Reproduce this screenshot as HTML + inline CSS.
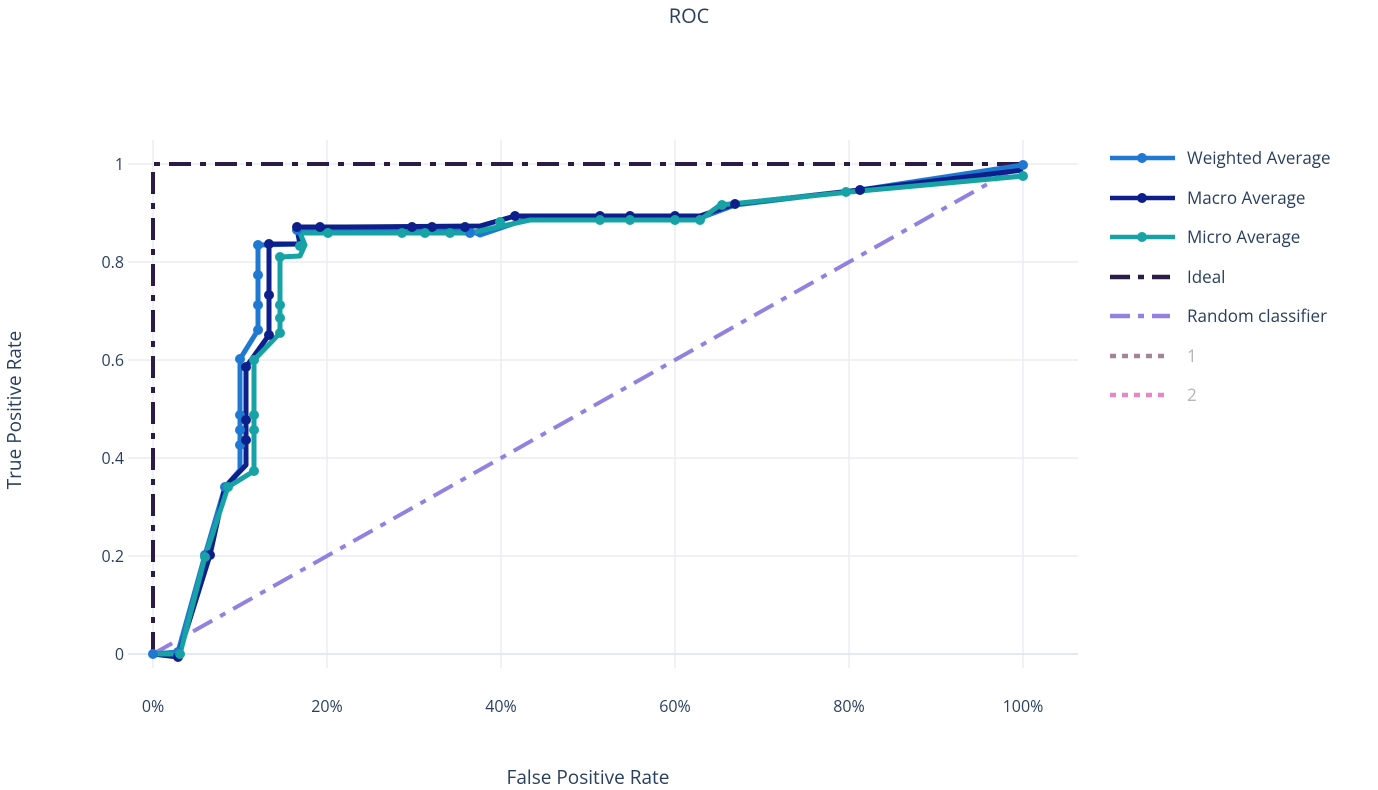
<!DOCTYPE html>
<html><head><meta charset="utf-8"><style>
body{margin:0;background:#fff;}
svg{display:block;font-family:"Open Sans","Liberation Sans",sans-serif;}
</style></head><body>
<svg width="1378" height="790" viewBox="0 0 1378 790">
<rect width="1378" height="790" fill="#fff"/>
<g stroke="#e9edf3" stroke-width="1.5">
<line x1="153" y1="140" x2="153" y2="668"/><line x1="327" y1="140" x2="327" y2="668"/><line x1="501" y1="140" x2="501" y2="668"/><line x1="675" y1="140" x2="675" y2="668"/><line x1="849" y1="140" x2="849" y2="668"/><line x1="1023" y1="140" x2="1023" y2="668"/>
<line x1="128" y1="164" x2="1078" y2="164"/><line x1="128" y1="262" x2="1078" y2="262"/><line x1="128" y1="360" x2="1078" y2="360"/><line x1="128" y1="458" x2="1078" y2="458"/><line x1="128" y1="556" x2="1078" y2="556"/>
</g>
<line x1="128" y1="654" x2="1078" y2="654" stroke="#e4e9f0" stroke-width="2"/>
<g fill="#2a3f5f" font-size="16">
<text x="689" y="23" text-anchor="middle" font-size="20">ROC</text>
<g text-anchor="end"><text x="124" y="170">1</text><text x="124" y="268">0.8</text><text x="124" y="366">0.6</text><text x="124" y="464">0.4</text><text x="124" y="562">0.2</text><text x="124" y="660">0</text></g>
<g text-anchor="middle"><text x="153" y="712">0%</text><text x="327" y="712">20%</text><text x="501" y="712">40%</text><text x="675" y="712">60%</text><text x="849" y="712">80%</text><text x="1023" y="712">100%</text></g>
<text x="588" y="784" text-anchor="middle" font-size="19">False Positive Rate</text>
<text transform="translate(21,410) rotate(-90)" text-anchor="middle" font-size="19">True Positive Rate</text>
</g>
<polyline points="153,654 1023,164" fill="none" stroke="#9381e0" stroke-width="4" stroke-dasharray="22,9,6,9"/>
<polyline points="153,654 153,164 1023,164" fill="none" stroke="#2c1b47" stroke-width="4" stroke-dasharray="22,9,6,9"/>
<g fill="none" stroke-width="5" stroke-linejoin="round">
<polyline stroke="#1f78d1" points="153,654 178,652 205,555 225,487 240,470 240,359 258,330 258,245 300,244 297,230 330,230 470,230 480,235 530,218 700,218 735,205 860,190 1023,165"/>
<polyline stroke="#0d1f8a" points="153,654 178,657 210,555 225,487 246,465 246,367 269,335 269,244 300,244 297,227 345,227 480,226 515,216 700,216 735,204 860,190 1023,170"/>
<polyline stroke="#17a2a6" points="153,654 180,654 205,557 228,487 254,471 254,360 280,333 280,257 300,256 305,245 300,233 470,233 530,220 700,220 720,205 860,191 1023,176"/>
</g>
<g fill="#1f78d1"><circle cx="153" cy="654" r="5"/><circle cx="178" cy="652" r="5"/><circle cx="205" cy="555" r="5"/><circle cx="225" cy="487" r="5"/><circle cx="240" cy="359" r="5"/><circle cx="240" cy="415" r="5"/><circle cx="240" cy="430" r="5"/><circle cx="240" cy="445" r="5"/><circle cx="258" cy="330" r="5"/><circle cx="258" cy="305" r="5"/><circle cx="258" cy="275" r="5"/><circle cx="258" cy="245" r="5"/><circle cx="297" cy="230" r="5"/><circle cx="470" cy="233" r="5"/><circle cx="1023" cy="165" r="5"/></g>
<g fill="#0d1f8a"><circle cx="178" cy="657" r="5"/><circle cx="210" cy="555" r="5"/><circle cx="246" cy="367" r="5"/><circle cx="246" cy="420" r="5"/><circle cx="246" cy="440" r="5"/><circle cx="269" cy="335" r="5"/><circle cx="269" cy="295" r="5"/><circle cx="269" cy="244" r="5"/><circle cx="297" cy="227" r="5"/><circle cx="320" cy="227" r="5"/><circle cx="412" cy="227" r="5"/><circle cx="432" cy="227" r="5"/><circle cx="465" cy="227" r="5"/><circle cx="515" cy="216" r="5"/><circle cx="600" cy="216" r="5"/><circle cx="630" cy="216" r="5"/><circle cx="675" cy="216" r="5"/><circle cx="735" cy="204" r="5"/><circle cx="860" cy="190" r="5"/></g>
<g fill="#17a2a6"><circle cx="180" cy="654" r="5"/><circle cx="205" cy="557" r="5"/><circle cx="228" cy="487" r="5"/><circle cx="254" cy="471" r="5"/><circle cx="254" cy="415" r="5"/><circle cx="254" cy="430" r="5"/><circle cx="254" cy="360" r="5"/><circle cx="280" cy="333" r="5"/><circle cx="280" cy="305" r="5"/><circle cx="280" cy="318" r="5"/><circle cx="280" cy="257" r="5"/><circle cx="300" cy="246" r="5"/><circle cx="328" cy="233" r="5"/><circle cx="402" cy="233" r="5"/><circle cx="425" cy="233" r="5"/><circle cx="450" cy="233" r="5"/><circle cx="500" cy="222" r="5"/><circle cx="600" cy="220" r="5"/><circle cx="630" cy="220" r="5"/><circle cx="675" cy="220" r="5"/><circle cx="700" cy="220" r="5"/><circle cx="722" cy="205" r="5"/><circle cx="846" cy="192" r="5"/><circle cx="1023" cy="176" r="5"/></g>
<g stroke-width="4.5">
<line x1="1110" y1="158" x2="1175" y2="158" stroke="#1f78d1"/><circle cx="1142" cy="158" r="5" fill="#1f78d1"/>
<line x1="1110" y1="198" x2="1175" y2="198" stroke="#0d1f8a"/><circle cx="1142" cy="198" r="5" fill="#0d1f8a"/>
<line x1="1110" y1="237" x2="1175" y2="237" stroke="#17a2a6"/><circle cx="1142" cy="237" r="5" fill="#17a2a6"/>
<line x1="1110" y1="277" x2="1170" y2="277" stroke="#2c1b47" stroke-dasharray="20,8,6,8"/>
<line x1="1110" y1="316" x2="1170" y2="316" stroke="#9381e0" stroke-dasharray="20,8,6,8"/>
<line x1="1110" y1="356" x2="1170" y2="356" stroke="#a48597" stroke-dasharray="6,6"/>
<line x1="1110" y1="395" x2="1170" y2="395" stroke="#e887c8" stroke-dasharray="6,6"/>
</g>
<g font-size="17" fill="#2a3f5f">
<text x="1187" y="164">Weighted Average</text><text x="1187" y="204">Macro Average</text><text x="1187" y="243">Micro Average</text><text x="1187" y="283">Ideal</text><text x="1187" y="322">Random classifier</text>
<text x="1187" y="362" fill="#b5b5b5">1</text><text x="1187" y="401" fill="#b5b5b5">2</text>
</g>
</svg>
</body></html>
